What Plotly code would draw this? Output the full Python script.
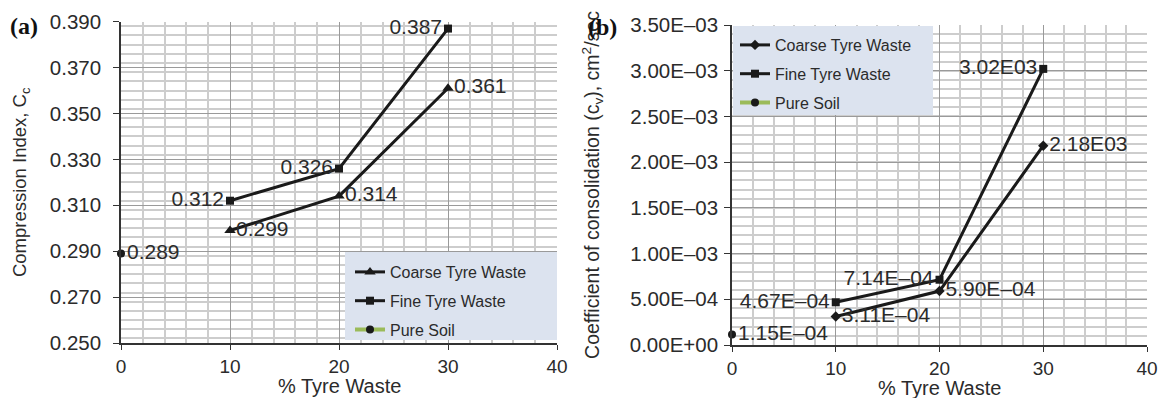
import plotly.graph_objects as go

# ---------------- data ----------------
x_tyre = [10, 20, 30]
x_soil = [0]

# panel (a) compression index
cc_coarse = [0.299, 0.314, 0.361]
cc_fine = [0.312, 0.326, 0.387]
cc_soil = [0.289]
cc_coarse_lbl = ["0.299", "0.314", "0.361"]
cc_fine_lbl = ["0.312", "0.326", "0.387"]
cc_soil_lbl = ["0.289"]

# panel (b) coefficient of consolidation
cv_coarse = [3.11e-4, 5.90e-4, 2.18e-3]
cv_fine = [4.67e-4, 7.14e-4, 3.02e-3]
cv_soil = [1.15e-4]
cv_coarse_lbl = ["3.11E\u201304", "5.90E\u201304", "2.18E03"]
cv_fine_lbl = ["4.67E\u201304", "7.14E\u201304", "3.02E03"]
cv_soil_lbl = ["1.15E\u201304"]

cv_ticks = [0, 5e-4, 1e-3, 1.5e-3, 2e-3, 2.5e-3, 3e-3, 3.5e-3]
cv_ticktext = ["0.00E+00", "5.00E\u201304", "1.00E\u201303", "1.50E\u201303",
               "2.00E\u201303", "2.50E\u201303", "3.00E\u201303", "3.50E\u201303"]

series_names = ["Coarse Tyre Waste", "Fine Tyre Waste", "Pure Soil"]
x_title = "% Tyre Waste"

# ---------------- styling ----------------
W, H = 1163, 398
FONT = "Liberation Sans, Arial, sans-serif"
TXT = "#2b2b2b"
LINE = "#1a1a1a"
SOIL_GREEN = "#9bbb59"
LEG_BG = "#dce3ef"
TICK_SIZE = 20.5
LABEL_SIZE = 21

fig = go.Figure()

def add_panel(xa, ya, coarse, fine, soil, coarse_sym, coarse_size, legend):
    fig.add_trace(go.Scatter(x=x_tyre, y=coarse, mode="lines+markers", name=series_names[0],
                             line=dict(color=LINE, width=3),
                             marker=dict(symbol=coarse_sym, size=coarse_size, color=LINE),
                             cliponaxis=False,
                             xaxis=xa, yaxis=ya, legend=legend, legendgroup=legend + "c"))
    fig.add_trace(go.Scatter(x=x_tyre, y=fine, mode="lines+markers", name=series_names[1],
                             line=dict(color=LINE, width=3),
                             marker=dict(symbol="square", size=8, color=LINE),
                             cliponaxis=False,
                             xaxis=xa, yaxis=ya, legend=legend, legendgroup=legend + "f"))
    fig.add_trace(go.Scatter(x=x_soil, y=soil, mode="lines+markers", name=series_names[2],
                             line=dict(color=SOIL_GREEN, width=4),
                             marker=dict(symbol="circle", size=8, color=LINE),
                             cliponaxis=False,
                             xaxis=xa, yaxis=ya, legend=legend, legendgroup=legend + "s"))

add_panel("x", "y", cc_coarse, cc_fine, cc_soil, "triangle-up", 10, "legend")
add_panel("x2", "y2", cv_coarse, cv_fine, cv_soil, "diamond", 8, "legend2")

def add_labels(xa, ya, xs, ys, labels, pos):
    fig.add_trace(go.Scatter(x=xs, y=ys, mode="markers+text", text=labels, textposition=pos,
                             marker=dict(size=8, opacity=0),
                             textfont=dict(family=FONT, size=LABEL_SIZE, color=TXT),
                             cliponaxis=False,
                             showlegend=False, hoverinfo="skip", xaxis=xa, yaxis=ya))

add_labels("x", "y", x_tyre, cc_coarse, cc_coarse_lbl, "middle right")
add_labels("x", "y", x_tyre, cc_fine, cc_fine_lbl, "middle left")
add_labels("x", "y", x_soil, cc_soil, cc_soil_lbl, "middle right")
add_labels("x2", "y2", x_tyre, cv_coarse, cv_coarse_lbl, "middle right")
add_labels("x2", "y2", x_tyre, cv_fine, cv_fine_lbl, "middle left")
add_labels("x2", "y2", x_soil, cv_soil, cv_soil_lbl, "middle right")

def px(v):
    return v / W

def py(v):
    return 1 - v / H

axis_common = dict(
    showline=True, linecolor="#333333", linewidth=1.6,
    ticks="outside", ticklen=6, tickcolor="#333333", tickwidth=1.4,
    showgrid=True, gridcolor="#9a9a9a", gridwidth=1,
    zeroline=False, automargin=False,
    tickfont=dict(family=FONT, size=TICK_SIZE, color=TXT),
)

xa_common = dict(axis_common, range=[0, 40], dtick=10, tick0=0,
                 ticklen=5, ticklabelstandoff=0,
                 tickfont=dict(family=FONT, size=19, color=TXT),
                 minor=dict(dtick=2, showgrid=True, gridcolor="#cdcdcd", gridwidth=1.5))

fig.update_layout(
    width=W, height=H,
    margin=dict(l=0, r=0, t=0, b=0, autoexpand=False),
    paper_bgcolor="white", plot_bgcolor="white",
    font=dict(family=FONT, color=TXT),
    xaxis=dict(xa_common, domain=[px(121), px(557)], anchor="y"),
    yaxis=dict(axis_common, domain=[py(343), py(21.7)], anchor="x",
               range=[0.25, 0.39], dtick=0.02, tick0=0.25, tickformat=".3f",
               ticklabelstandoff=8,
               minor=dict(dtick=0.004, showgrid=True, gridcolor="#cdcdcd", gridwidth=1.5),
               title=dict(text="Compression Index, C<sub>c</sub>",
                          font=dict(family=FONT, size=18.5, color=TXT), standoff=18)),
    xaxis2=dict(xa_common, domain=[px(732), px(1147)], anchor="y2"),
    yaxis2=dict(axis_common, domain=[py(345), py(25)], anchor="x2",
                range=[0, 3.5e-3], tickvals=cv_ticks, ticktext=cv_ticktext,
                ticklabelstandoff=2,
                minor=dict(dtick=1e-4, tick0=0, showgrid=True, gridcolor="#cdcdcd", gridwidth=1.5),
                title=dict(text="Coefficient of consolidation (c<sub>v</sub>), cm<sup>2</sup>/sec",
                           font=dict(family=FONT, size=19.5, color=TXT), standoff=25)),
    legend=dict(x=px(350), y=py(255), xanchor="left", yanchor="top",
                bgcolor="rgba(0,0,0,0)", font=dict(family=FONT, size=16, color=TXT),
                tracegroupgap=5, itemwidth=30),
    legend2=dict(x=px(735), y=py(28), xanchor="left", yanchor="top",
                 bgcolor="rgba(0,0,0,0)", font=dict(family=FONT, size=16, color=TXT),
                 tracegroupgap=5, itemwidth=30),
    showlegend=True,
    shapes=[
        dict(type="rect", xref="paper", yref="paper", x0=px(345), x1=px(557), y0=py(340), y1=py(252),
             fillcolor=LEG_BG, line=dict(width=0), layer="above"),
        dict(type="rect", xref="paper", yref="paper", x0=px(733), x1=px(933), y0=py(115), y1=py(26),
             fillcolor=LEG_BG, line=dict(width=0), layer="above"),
    ],
    annotations=[
        dict(text="<b>(a)</b>", x=px(8), y=py(26), xref="paper", yref="paper",
             xanchor="left", yanchor="middle", showarrow=False,
             font=dict(family="Liberation Serif, Times New Roman, serif", size=24, color="#111111")),
        dict(text="<b>(b)</b>", x=px(586), y=py(27), xref="paper", yref="paper",
             xanchor="left", yanchor="middle", showarrow=False,
             font=dict(family="Liberation Serif, Times New Roman, serif", size=24, color="#111111")),
        dict(text=x_title, x=px(339), y=py(386), xref="paper", yref="paper",
             xanchor="center", yanchor="middle", showarrow=False,
             font=dict(family=FONT, size=20, color=TXT)),
        dict(text=x_title, x=px(940), y=py(388), xref="paper", yref="paper",
             xanchor="center", yanchor="middle", showarrow=False,
             font=dict(family=FONT, size=20, color=TXT)),
    ],
)

fig.write_html("out.html")
